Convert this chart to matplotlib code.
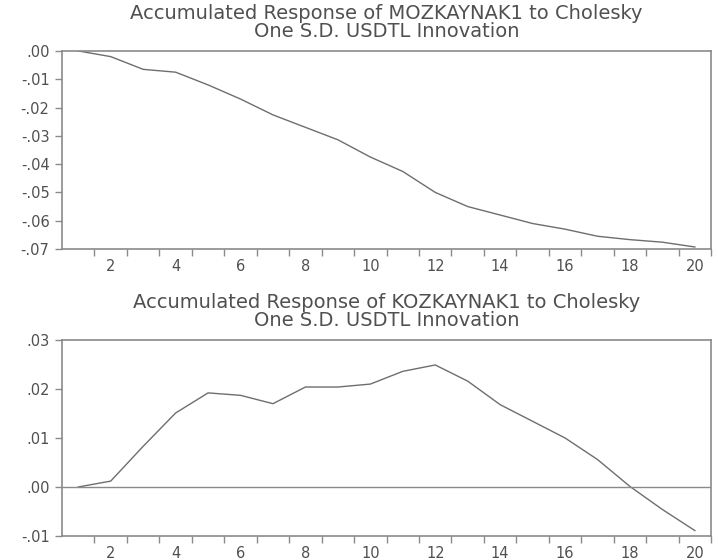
import numpy as np
import matplotlib
matplotlib.use("Agg")
import matplotlib.pyplot as plt
from matplotlib.ticker import FuncFormatter, FixedLocator

# periods 1..20
periods = list(range(1, 21))

# accumulated response of MOZKAYNAK1
moz_resp = [0.0000, -0.0020, -0.0065, -0.0075, -0.0120, -0.0170, -0.0226, -0.0270,
            -0.0314, -0.0375, -0.0426, -0.0500, -0.0550, -0.0580, -0.0610, -0.0630,
            -0.0655, -0.0667, -0.0676, -0.0693]

# accumulated response of KOZKAYNAK1
koz_resp = [0.0000, 0.0012, 0.0083, 0.0151, 0.0192, 0.0187, 0.0170, 0.0204,
            0.0204, 0.0210, 0.0236, 0.0249, 0.0216, 0.0168, 0.0134, 0.0100,
            0.0056, 0.0001, -0.0046, -0.0089]

titles = [
    "Accumulated Response of MOZKAYNAK1 to Cholesky\nOne S.D. USDTL Innovation",
    "Accumulated Response of KOZKAYNAK1 to Cholesky\nOne S.D. USDTL Innovation",
]
moz_ticks = [0.00, -0.01, -0.02, -0.03, -0.04, -0.05, -0.06, -0.07]
koz_ticks = [-0.01, 0.00, 0.01, 0.02, 0.03]

line_col = "#6e6e6e"
axis_col = "#8a8a8a"
text_col = "#505050"


def eviews_fmt(v, pos):
    s = "%.2f" % v
    if s.startswith("-0"):
        s = "-" + s[2:]
    elif s.startswith("0"):
        s = s[1:]
    if s == "-.00":
        s = ".00"
    return s


def style_axis(ax, yticks, ylim, title):
    ax.set_xlim(0.5, 20.5)
    ax.set_ylim(*ylim)
    ax.xaxis.set_major_locator(FixedLocator(list(range(2, 21, 2))))
    ax.xaxis.set_minor_locator(FixedLocator([p + 0.5 for p in periods]))
    ax.tick_params(axis="x", which="major", length=0, pad=7)
    ax.tick_params(axis="x", which="minor", length=5, width=1, color=axis_col)
    ax.set_yticks(yticks)
    ax.yaxis.set_major_formatter(FuncFormatter(eviews_fmt))
    ax.tick_params(axis="y", length=5, width=1, color=axis_col, pad=4)
    ax.tick_params(labelsize=10.5, labelcolor=text_col)
    for sp in ax.spines.values():
        sp.set_color(axis_col)
        sp.set_linewidth(1.2)
    ax.set_title(title, fontsize=14, color=text_col, pad=10, linespacing=0.95)


plt.rcParams["font.family"] = ["DejaVu Sans"]
fig = plt.figure(figsize=(7.18, 5.6), dpi=100)

ax1 = fig.add_axes([0.0864, 0.5554, 0.904, 0.3536])
ax1.plot(periods, moz_resp, color=line_col, lw=1.0)
style_axis(ax1, moz_ticks, (-0.07, 0.0), titles[0])

ax2 = fig.add_axes([0.0864, 0.0429, 0.904, 0.3500])
ax2.plot(periods, koz_resp, color=line_col, lw=1.0)
ax2.axhline(0, color=axis_col, lw=1.0)
style_axis(ax2, koz_ticks, (-0.01, 0.03), titles[1])

fig.savefig("out.png", dpi=100)
